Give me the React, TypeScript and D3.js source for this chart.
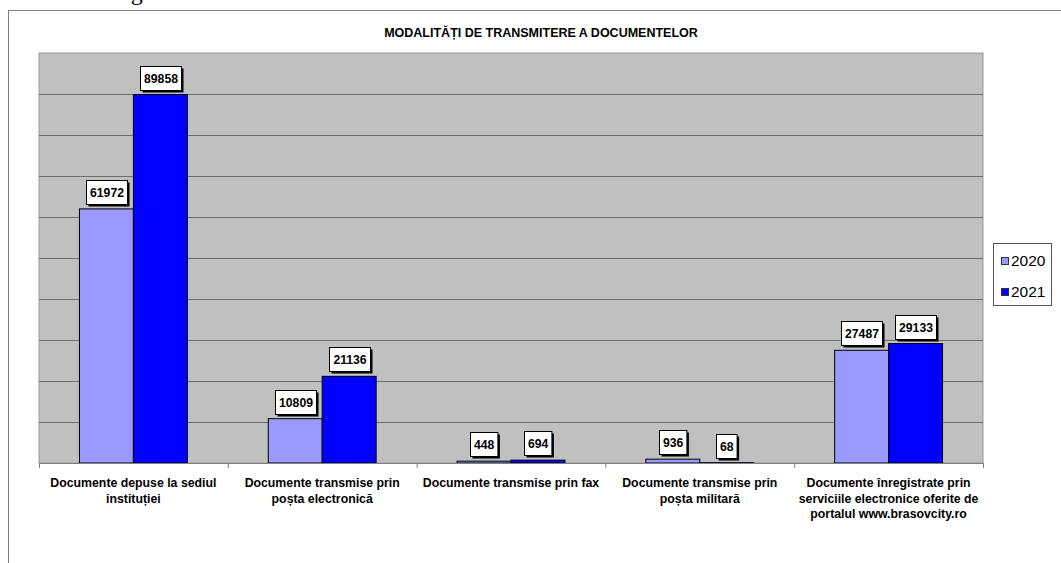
import React from "react";
import * as d3 from "d3";

const categories = [
  "Documente depuse la sediul instituției",
  "Documente transmise prin poșta electronică",
  "Documente transmise prin fax",
  "Documente transmise prin poșta militară",
  "Documente înregistrate prin serviciile electronice oferite de portalul www.brasovcity.ro",
];
const categoryLines = [
  ["Documente depuse la sediul", "instituției"],
  ["Documente transmise prin", "poșta electronică"],
  ["Documente transmise prin fax"],
  ["Documente transmise prin", "poșta militară"],
  ["Documente înregistrate prin", "serviciile electronice oferite de", "portalul www.brasovcity.ro"],
];
const seriesNames = ["2020", "2021"];
const values2020 = [61972, 10809, 448, 936, 27487];
const values2021 = [89858, 21136, 694, 68, 29133];
const seriesColors = ["#9999FF", "#0000FF"];
const gridTicks = [10000, 20000, 30000, 40000, 50000, 60000, 70000, 80000, 90000];
const title = "MODALITĂȚI DE TRANSMITERE A DOCUMENTELOR";

const FONT = "Arial, 'Liberation Sans', sans-serif";

export default function App() {
  const W = 1061, H = 563;
  const plot = { left: 39, right: 983, top: 53, bottom: 463 };
  const x = d3.scaleBand<string>().domain(categories).range([plot.left, plot.right]).paddingInner(0).paddingOuter(0);
  const xs = d3.scaleBand<string>().domain(seriesNames).range([0, x.bandwidth()]).paddingInner(0).paddingOuter(0.75);
  const y = d3.scaleLinear().domain([0, 100000]).range([plot.bottom, plot.top]);
  const series = [values2020, values2021];
  const boundaries = categories.map((c) => x(c) as number).concat([plot.right]);

  return (
    <svg width={W} height={H} style={{ position: "absolute", left: 0, top: 0, background: "#fff" }} fontFamily={FONT}>
      <text x={112} y={0} fontFamily="'Liberation Serif', 'DejaVu Serif', serif" fontSize={24} fill="#000">ing</text>
      <line x1={8} x2={1061} y1={10.5} y2={10.5} stroke="#808080" strokeWidth={1} />
      <line x1={8.5} x2={8.5} y1={10} y2={H} stroke="#808080" strokeWidth={1} />
      <text x={541} y={37} textAnchor="middle" fontSize={12.5} fontWeight="bold" fill="#000">{title}</text>

      <rect x={plot.left} y={plot.top} width={plot.right - plot.left} height={plot.bottom - plot.top} fill="#C0C0C0" stroke="#9a9a9a" strokeWidth={1} />
      {gridTicks.map((t) => (
        <line key={t} x1={plot.left} x2={plot.right} y1={Math.round(y(t)) + 0.5} y2={Math.round(y(t)) + 0.5} stroke="#6e6e6e" strokeWidth={1} />
      ))}

      {categories.map((c, ci) =>
        series.map((vals, si) => {
          const bx = (x(c) as number) + (xs(seriesNames[si]) as number);
          const by = y(vals[ci]);
          return (
            <rect key={c + si} x={bx} y={by} width={xs.bandwidth()} height={Math.max(0, plot.bottom - by)} fill={seriesColors[si]} stroke="#000" strokeWidth={1} />
          );
        })
      )}

      <line x1={plot.left} x2={plot.right} y1={plot.bottom + 0.5} y2={plot.bottom + 0.5} stroke="#808080" strokeWidth={1} />
      {boundaries.map((b, i) => (
        <line key={i} x1={b + 0.5} x2={b + 0.5} y1={plot.bottom} y2={plot.bottom + 5} stroke="#808080" strokeWidth={1} />
      ))}

      {categories.map((c, ci) =>
        series.map((vals, si) => {
          const cx = (x(c) as number) + (xs(seriesNames[si]) as number) + xs.bandwidth() / 2;
          const label = String(vals[ci]);
          const bw = label.length * 6.8 + 7;
          const bh = 24;
          const top = y(vals[ci]) - 5 - bh;
          const bx = Math.round(cx - bw / 2) + 0.5;
          const byy = Math.round(top) + 0.5;
          return (
            <g key={"l" + c + si}>
              <rect x={bx + 2} y={byy + 2} width={bw} height={bh} fill="#000" />
              <rect x={bx} y={byy} width={bw} height={bh} fill="#fff" stroke="#000" strokeWidth={1} />
              <text x={bx + bw / 2} y={byy + bh / 2 + 4.3} textAnchor="middle" fontSize={12.2} fontWeight="bold" fill="#000">{label}</text>
            </g>
          );
        })
      )}

      {categories.map((c, ci) => (
        <text key={"c" + ci} x={(x(c) as number) + x.bandwidth() / 2} textAnchor="middle" fontSize={12.3} fontWeight="bold" fill="#000">
          {categoryLines[ci].map((ln, li) => (
            <tspan key={li} x={(x(c) as number) + x.bandwidth() / 2} y={487 + li * 15.5}>{ln}</tspan>
          ))}
        </text>
      ))}

      <rect x={993.5} y={243.5} width={58} height={62} fill="#fff" stroke="#555" strokeWidth={1} />
      {seriesNames.map((s, i) => (
        <g key={s}>
          <rect x={1001.5} y={257.5 + i * 31} width={7} height={7} fill={seriesColors[i]} stroke="#333" strokeWidth={1} />
          <text x={1011} y={265.5 + i * 31} fontSize={15.5} fill="#000">{s}</text>
        </g>
      ))}
    </svg>
  );
}
